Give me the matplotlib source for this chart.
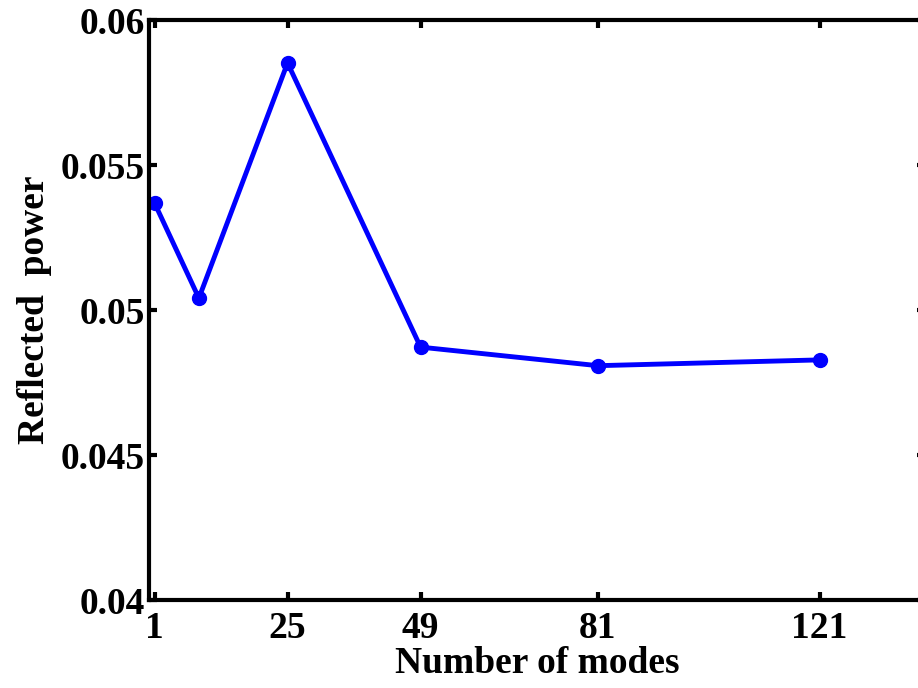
import matplotlib
matplotlib.use("Agg")
import matplotlib.pyplot as plt

# number of modes vs reflected power
modes = [1, 9, 25, 49, 81, 121]
reflected = [0.05369, 0.05041, 0.05852, 0.04872, 0.04808, 0.04828]
xticks = [1, 25, 49, 81, 121]
yticks = [0.04, 0.045, 0.05, 0.055, 0.06]
ytick_labels = ["0.04", "0.045", "0.05", "0.055", "0.06"]

plt.rcParams['font.family'] = ['Liberation Serif', 'DejaVu Serif']
plt.rcParams['font.weight'] = 'bold'

fig = plt.figure(figsize=(9.18, 6.88), dpi=100)
ax = fig.add_axes([0.1623, 0.1279, 0.8453, 0.843])

ax.plot(modes, reflected, '-o', color='#0000ff', lw=3.5, markersize=10)

ax.set_xlim(0, 140)
ax.set_ylim(0.04, 0.06)
ax.set_xticks(xticks)
ax.set_yticks(yticks)
ax.set_yticklabels(ytick_labels)

for s in ax.spines.values():
    s.set_linewidth(3)
ax.tick_params(direction='in', length=6, width=3, labelsize=27,
               top=True, right=True)
ax.tick_params(axis='y', pad=3)
ax.tick_params(axis='x', pad=8)
for lab in ax.get_xticklabels() + ax.get_yticklabels():
    lab.set_fontweight('bold')

ax.set_xlabel("Number of modes", fontsize=27, fontweight='bold', labelpad=0)
ax.set_ylabel("Reflected  power", fontsize=27, fontweight='bold', labelpad=6)

fig.savefig("out.png", dpi=100)
